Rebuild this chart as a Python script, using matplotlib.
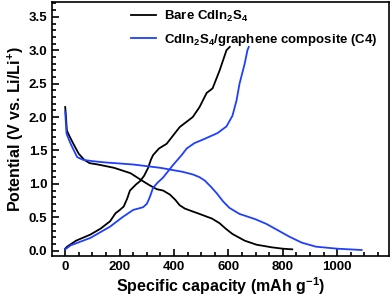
import matplotlib
matplotlib.use("Agg")
import matplotlib.pyplot as plt
from matplotlib.ticker import MultipleLocator

plt.rcParams['font.family'] = ['Liberation Sans', 'DejaVu Sans']
plt.rcParams['font.weight'] = 'bold'
plt.rcParams['mathtext.fontset'] = 'custom'
plt.rcParams['mathtext.rm'] = 'Liberation Sans:bold'
plt.rcParams['mathtext.it'] = 'Liberation Sans:bold'
plt.rcParams['mathtext.bf'] = 'Liberation Sans:bold'

# bare CdIn2S4, discharge and charge
bare_dis_x = [0, 3, 6, 15, 30, 50, 70, 90, 120, 180, 240, 286, 310, 337, 360, 385,
              405, 421, 440, 460, 494, 540, 568, 590, 615, 660, 703, 760, 800, 835]
bare_dis_y = [2.15, 2.0, 1.8, 1.72, 1.6, 1.45, 1.36, 1.31, 1.29, 1.24, 1.16, 1.04, 0.98, 0.92, 0.9, 0.84,
              0.76, 0.68, 0.63, 0.6, 0.55, 0.48, 0.41, 0.33, 0.25, 0.15, 0.09, 0.05, 0.03, 0.02]
bare_ch_x = [0, 7, 40, 92, 130, 165, 185, 201, 215, 228, 238, 260, 275, 290, 305, 315, 323, 345, 373,
             421, 469, 494, 520, 542, 568, 593, 605]
bare_ch_y = [0.03, 0.06, 0.15, 0.24, 0.33, 0.44, 0.56, 0.61, 0.66, 0.78, 0.9, 0.99, 1.04, 1.12, 1.24,
             1.36, 1.43, 1.53, 1.6, 1.85, 2.0, 2.15, 2.36, 2.43, 2.7, 3.0, 3.05]

# CdIn2S4/graphene composite (C4)
c4_dis_x = [0, 5, 20, 44, 66, 100, 150, 250, 350, 432, 470, 494, 513, 535, 557, 580, 604, 641, 700,
            740, 780, 824, 870, 922, 1000, 1090]
c4_dis_y = [2.08, 1.75, 1.6, 1.4, 1.36, 1.34, 1.32, 1.29, 1.24, 1.18, 1.14, 1.1, 1.05, 0.96, 0.86,
            0.74, 0.64, 0.55, 0.47, 0.4, 0.31, 0.21, 0.12, 0.06, 0.03, 0.01]
c4_ch_x = [0, 20, 92, 165, 210, 250, 286, 300, 311, 323, 340, 359, 396, 428, 447, 475, 505, 560, 593,
           615, 630, 641, 660, 670, 675]
c4_ch_y = [0.02, 0.08, 0.19, 0.36, 0.5, 0.61, 0.65, 0.7, 0.8, 0.94, 1.02, 1.09, 1.28, 1.43, 1.53,
           1.61, 1.66, 1.76, 1.86, 2.02, 2.25, 2.5, 2.8, 3.0, 3.05]

fig = plt.figure(figsize=(3.92, 3.03), dpi=100)
ax = fig.add_axes([0.133, 0.155, 0.859, 0.838])

ax.plot(bare_dis_x, bare_dis_y, color='black', lw=1.3, label='Bare CdIn$_2$S$_4$')
ax.plot(bare_ch_x, bare_ch_y, color='black', lw=1.3)
ax.plot(c4_dis_x, c4_dis_y, color='#1f3fff', lw=1.3, label='CdIn$_2$S$_4$/graphene composite (C4)')
ax.plot(c4_ch_x, c4_ch_y, color='#1f3fff', lw=1.3)

ax.set_xlim(-48, 1190)
ax.set_ylim(-0.08, 3.72)
ax.xaxis.set_major_locator(MultipleLocator(200))
ax.xaxis.set_minor_locator(MultipleLocator(50))
ax.yaxis.set_major_locator(MultipleLocator(0.5))
ax.yaxis.set_minor_locator(MultipleLocator(0.1))
ax.yaxis.set_major_formatter(lambda v, p: f"{v:.1f}")
ax.tick_params(which='both', direction='in', top=False, right=False, width=1.2, labelsize=9.5)
ax.tick_params(which='major', length=5)
ax.tick_params(which='minor', length=3)
for s in ax.spines.values():
    s.set_linewidth(1.2)

ax.set_xlabel('Specific capacity (mAh g$^{-1}$)', fontsize=11.5, fontweight='bold', labelpad=2)
ax.set_ylabel('Potential (V vs. Li/Li$^{+}$)', fontsize=11.5, fontweight='bold', labelpad=2)

ax.legend(loc='upper left', bbox_to_anchor=(0.215, 1.0), frameon=False, fontsize=9.5,
          handlelength=1.9, handletextpad=0.6, labelspacing=0.6, borderaxespad=0.1)

fig.savefig('out.png', dpi=100)
